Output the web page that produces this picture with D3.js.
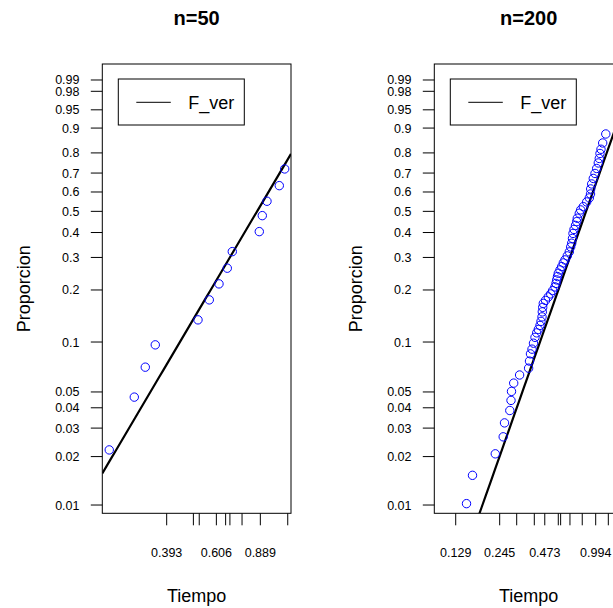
<!DOCTYPE html>
<html>
<head>
<meta charset="utf-8">
<script src="https://cdn.jsdelivr.net/npm/d3@7"></script>
<style>
  body { margin: 0; background: #fff; }
  text { font-family: "Liberation Sans", Arial, sans-serif; fill: #000; }
</style>
</head>
<body>
<svg width="613" height="608"></svg>
<script>
// n=50 panel: failure times and empirical proportions
const time50 = [0.2382, 0.2963, 0.3261, 0.3558, 0.5163, 0.5697, 0.6200, 0.6665, 0.6962,
    0.8810, 0.9043, 0.9421, 1.0488, 1.0993];
const prop50 = [0.0220, 0.0465, 0.0707, 0.0962, 0.1350, 0.1759, 0.2162, 0.2632, 0.3215,
    0.4040, 0.4788, 0.5515, 0.6336, 0.7212];

// n=200 panel
const time200 = [0.1510, 0.1648, 0.2298, 0.2579, 0.2629, 0.2840, 0.2890, 0.2911, 0.3006, 0.3276,
    0.3736, 0.3785, 0.3840, 0.3926, 0.4012, 0.4101, 0.4204, 0.4303, 0.4411, 0.4476,
    0.4542, 0.4562, 0.4589, 0.4629, 0.4780, 0.4979, 0.5157, 0.5309, 0.5490, 0.5571,
    0.5628, 0.5694, 0.5761, 0.5906, 0.6054, 0.6197, 0.6352, 0.6569, 0.6763, 0.6903,
    0.7005, 0.7086, 0.7138, 0.7243, 0.7404, 0.7534, 0.7600, 0.7825, 0.7987, 0.8296,
    0.8717, 0.9055, 0.9215, 0.9241, 0.9377, 0.9598, 0.9839, 1.0086, 1.0325, 1.0476,
    1.0583, 1.0739, 1.1009, 1.1518];
const prop200 = [0.0102, 0.0153, 0.0208, 0.0265, 0.0323, 0.0385, 0.0444, 0.0504, 0.0566, 0.0634,
    0.0697, 0.0769, 0.0850, 0.0907, 0.0984, 0.1066, 0.1133, 0.1187, 0.1253, 0.1323,
    0.1405, 0.1502, 0.1594, 0.1680, 0.1747, 0.1828, 0.1901, 0.1984, 0.2080, 0.2175,
    0.2274, 0.2371, 0.2473, 0.2577, 0.2684, 0.2808, 0.2912, 0.3056, 0.3204, 0.3397,
    0.3546, 0.3745, 0.3960, 0.4138, 0.4321, 0.4499, 0.4662, 0.4906, 0.5071, 0.5238,
    0.5479, 0.5687, 0.5896, 0.6161, 0.6426, 0.6717, 0.6979, 0.7237, 0.7515, 0.7737,
    0.7974, 0.8167, 0.8439, 0.8793];

// x axis ticks (log scale), only some get a label
const xTicks50 = [0.393, 0.496, 0.522, 0.606, 0.657, 0.682, 0.758, 0.889, 1.129];
const xLabels50 = ['0.393', '', '', '0.606', '', '', '', '0.889', ''];
const xTicks200 = [0.129, 0.245, 0.314, 0.406, 0.473, 0.576, 0.596, 0.683, 0.817, 0.994, 1.195];
const xLabels200 = ['0.129', '0.245', '', '', '0.473', '', '', '', '', '0.994', ''];
const xLim50 = [0.2242, 1.1615];
const xLim200 = [0.0944, 1.4804];

// y axis (weibull probability scale)
const yTicks = [0.01, 0.02, 0.03, 0.04, 0.05, 0.1, 0.2, 0.3, 0.4, 0.5, 0.6, 0.7, 0.8, 0.9, 0.95, 0.98, 0.99];
const yLim = [0.00888, 0.99697];

// true distribution F_ver (weibull)
const trueShape = 2.8;
const trueScale = 0.985;

const svg = d3.select('svg');
const plotTop = 64, plotBottom = 513.3, plotW = 188.7;

const wb = p => Math.log(-Math.log(1 - p));

function drawPanel(x0, title, times, props, ticks, labels, xLim, id) {
    const g = svg.append('g');
    const x = d3.scaleLog().domain(xLim).range([x0, x0 + plotW]);
    const y = d3.scaleLinear().domain(yLim.map(wb)).range([plotBottom, plotTop]);

    g.append('clipPath').attr('id', id)
        .append('rect')
        .attr('x', x0).attr('y', plotTop)
        .attr('width', plotW).attr('height', plotBottom - plotTop);

    // true cdf line
    const lineData = d3.range(0, 41).map(i => {
        const lt = Math.log(xLim[0]) + i / 40 * (Math.log(xLim[1]) - Math.log(xLim[0]));
        return [Math.exp(lt), trueShape * (lt - Math.log(trueScale))];
    });
    g.append('path')
        .attr('clip-path', `url(#${id})`)
        .attr('d', d3.line().x(d => x(d[0])).y(d => y(d[1]))(lineData))
        .attr('fill', 'none')
        .attr('stroke', 'black')
        .attr('stroke-width', 2.2);

    // points
    g.selectAll('circle')
        .data(times.map((t, i) => [t, props[i]]))
        .enter()
        .append('circle')
        .attr('cx', d => x(d[0]))
        .attr('cy', d => y(wb(d[1])))
        .attr('r', 4.2)
        .attr('fill', 'none')
        .attr('stroke', '#0000ff')
        .attr('stroke-width', 1);

    // box
    g.append('rect')
        .attr('x', x0).attr('y', plotTop)
        .attr('width', plotW).attr('height', plotBottom - plotTop)
        .attr('fill', 'none').attr('stroke', 'black').attr('stroke-width', 1);

    // y axis
    const yAx = g.append('g');
    yAx.selectAll('line').data(yTicks).enter().append('line')
        .attr('x1', x0 - 11.5).attr('x2', x0)
        .attr('y1', d => y(wb(d))).attr('y2', d => y(wb(d)))
        .attr('stroke', 'black');
    yAx.selectAll('text').data(yTicks).enter().append('text')
        .attr('x', x0 - 22.8)
        .attr('y', d => y(wb(d)))
        .attr('dy', '0.36em')
        .attr('text-anchor', 'end')
        .attr('font-size', 12.5)
        .text(d => d);

    // x axis
    const xAx = g.append('g');
    xAx.selectAll('line').data(ticks).enter().append('line')
        .attr('x1', d => x(d)).attr('x2', d => x(d))
        .attr('y1', plotBottom).attr('y2', plotBottom + 12)
        .attr('stroke', 'black');
    xAx.selectAll('text').data(ticks).enter().append('text')
        .attr('x', d => x(d))
        .attr('y', 557.2)
        .attr('text-anchor', 'middle')
        .attr('font-size', 12.5)
        .text((d, i) => labels[i]);

    // titles
    const cx = x0 + plotW / 2;
    g.append('text').attr('x', cx).attr('y', 25)
        .attr('text-anchor', 'middle').attr('font-size', 20).attr('font-weight', 'bold')
        .text(title);
    g.append('text').attr('x', cx).attr('y', 602)
        .attr('text-anchor', 'middle').attr('font-size', 18)
        .text('Tiempo');
    g.append('text')
        .attr('transform', `translate(${x0 - 72},${(plotTop + plotBottom) / 2}) rotate(-90)`)
        .attr('text-anchor', 'middle').attr('font-size', 18)
        .text('Proporcion');

    // legend
    const lg = g.append('g');
    lg.append('rect')
        .attr('x', x0 + 16).attr('y', 79)
        .attr('width', 126).attr('height', 46)
        .attr('fill', 'white').attr('stroke', 'black');
    lg.append('line')
        .attr('x1', x0 + 34).attr('x2', x0 + 68.5)
        .attr('y1', 102.3).attr('y2', 102.3)
        .attr('stroke', 'black');
    lg.append('text')
        .attr('x', x0 + 86).attr('y', 109)
        .attr('font-size', 18)
        .text('F_ver');
}

drawPanel(102.3, 'n=50', time50, prop50, xTicks50, xLabels50, xLim50, 'clip50');
drawPanel(434.3, 'n=200', time200, prop200, xTicks200, xLabels200, xLim200, 'clip200');
</script>
</body>
</html>
